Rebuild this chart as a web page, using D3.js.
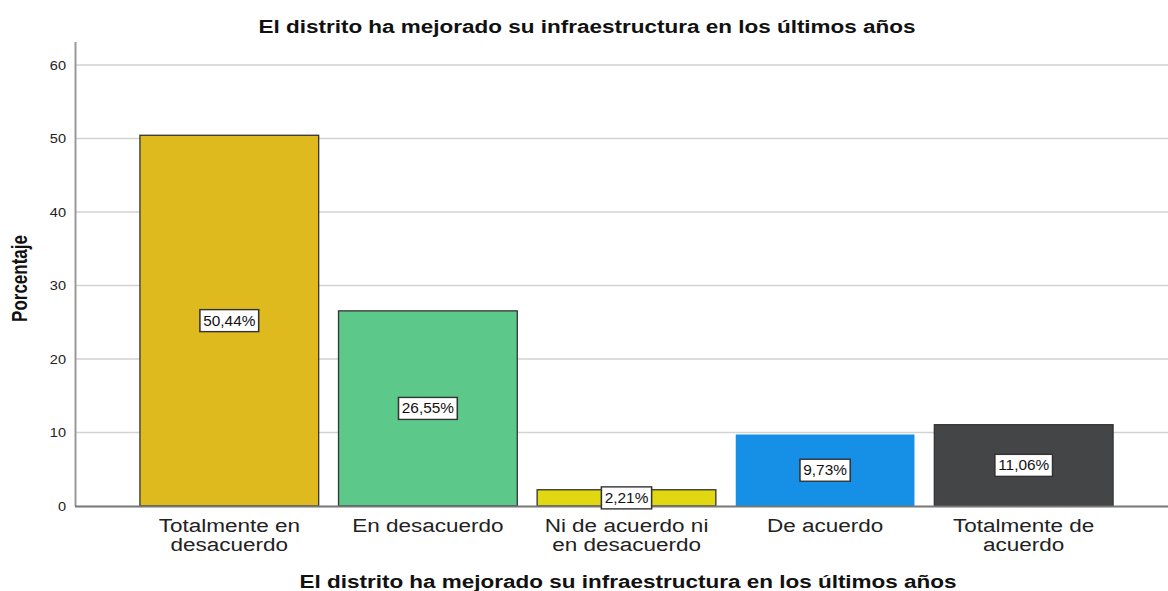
<!DOCTYPE html>
<html><head><meta charset="utf-8">
<script src="https://cdn.jsdelivr.net/npm/d3@7"></script>
<style>body{margin:0;background:#fff}svg{display:block;font-family:"Liberation Sans",Arial,sans-serif}</style>
</head><body>
<svg id="c" width="1168" height="591"></svg>
<script>
const categories = [["Totalmente en","desacuerdo"],["En desacuerdo"],["Ni de acuerdo ni","en desacuerdo"],["De acuerdo"],["Totalmente de","acuerdo"]];
const values = [50.44, 26.55, 2.21, 9.73, 11.06];
const labels = ["50,44%","26,55%","2,21%","9,73%","11,06%"];
const colors = ["#DFBA1E","#5CC98A","#E1D811","#1690E6","#444547"];
const yTicks = [0,10,20,30,40,50,60];
const title = "El distrito ha mejorado su infraestructura en los últimos años";
const xTitle = "El distrito ha mejorado su infraestructura en los últimos años";
const yTitle = "Porcentaje";

const SX = 1.25; // horizontal stretch of the reference rendering
const svg = d3.select("#c");
const x = d3.scaleBand().domain(d3.range(values.length)).range([130,1123]).paddingInner(0.1).paddingOuter(0.05);
const y = d3.scaleLinear().domain([0,60]).range([506,65]);

// gridlines
svg.append("g").selectAll("line").data(yTicks.filter(d=>d>0)).join("line")
  .attr("x1",75).attr("x2",1168).attr("y1",d=>y(d)).attr("y2",d=>y(d))
  .attr("stroke","#d2d2d2").attr("stroke-width",1.5);

// y axis ticks (labels only)
const ya = svg.append("g").attr("transform","translate(75,0)")
  .call(d3.axisLeft(y).tickValues(yTicks).tickSize(0).tickPadding(9));
ya.select(".domain").remove();
ya.selectAll(".tick text").attr("font-size",13).attr("fill","#222")
  .attr("font-family","Liberation Sans, Arial, sans-serif")
  .attr("transform",function(){const tx=+d3.select(this).attr("x");return `translate(${tx*(1-1.12)},0) scale(1.12,1)`;});
svg.append("line").attr("x1",75.5).attr("x2",75.5).attr("y1",42).attr("y2",506).attr("stroke","#999").attr("stroke-width",2);

// bars
svg.append("g").selectAll("rect").data(values).join("rect")
  .attr("x",(d,i)=>x(i)).attr("width",x.bandwidth())
  .attr("y",d=>y(d)).attr("height",d=>y(0)-y(d))
  .attr("fill",(d,i)=>colors[i])
  .attr("stroke",(d,i)=>i===3?"none":"#333").attr("stroke-width",1.3);

// baseline
svg.append("line").attr("x1",75).attr("x2",1168).attr("y1",506.5).attr("y2",506.5).attr("stroke","#777").attr("stroke-width",2);

// value labels
const lg = svg.append("g").selectAll("g").data(values).join("g")
  .attr("transform",(d,i)=>`translate(${x(i)+x.bandwidth()/2},${y(d/2)}) scale(1.1,1)`);
lg.append("text").attr("text-anchor","middle").attr("dy","0.36em")
  .attr("font-size",14).attr("fill","#111").text((d,i)=>labels[i]);
lg.each(function(){
  const g = d3.select(this); const b = g.select("text").node().getBBox();
  g.insert("rect","text").attr("x",b.x-3).attr("y",-11).attr("width",b.width+6).attr("height",22)
   .attr("fill","#fff").attr("stroke","#333").attr("stroke-width",1.4);
});

// category labels
const cg = svg.append("g").selectAll("text").data(categories).join("text")
  .attr("transform",(d,i)=>`translate(${x(i)+x.bandwidth()/2},531.5) scale(${SX},1)`)
  .attr("text-anchor","middle").attr("font-size",18).attr("fill","#222");
cg.selectAll("tspan").data(d=>d).join("tspan")
  .attr("x",0).attr("dy",(d,i)=>i===0?0:19.5).text(d=>d);

// titles
svg.append("text").attr("transform",`translate(587,33) scale(${SX},1)`).attr("text-anchor","middle")
  .attr("font-size",18).attr("font-weight","bold").attr("fill","#111").text(title);
svg.append("text").attr("transform",`translate(628,588) scale(${SX},1)`).attr("text-anchor","middle")
  .attr("font-size",18).attr("font-weight","bold").attr("fill","#111").text(xTitle);
svg.append("text").attr("transform",`translate(27,278.5) scale(${SX},1) rotate(-90)`).attr("text-anchor","middle")
  .attr("font-size",17).attr("font-weight","bold").attr("fill","#111").text(yTitle);
</script>
</body></html>
